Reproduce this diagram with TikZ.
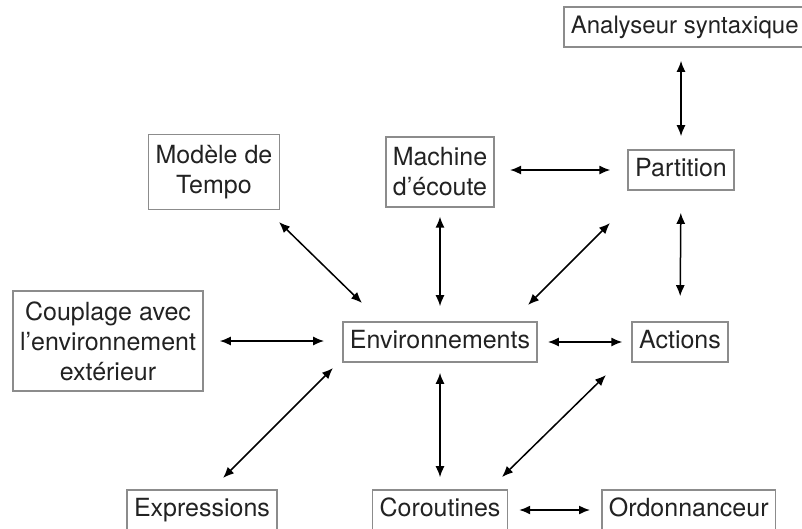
\documentclass[tikz,border=0pt]{standalone}
\usepackage{fontspec}
\setmainfont{TeX Gyre Heros}
\usepackage{tikz}
\usetikzlibrary{arrows.meta}

\definecolor{boxgray}{HTML}{8C8C8C}
\definecolor{txtgray}{HTML}{222222}

\tikzset{
	module/.style={draw=boxgray, line width=1.6pt, text=txtgray, align=center,
		inner xsep=7pt, inner ysep=10.5pt,
		font=\fontsize{25}{30}\selectfont},
	oneline/.style={module, text height=17.5pt, text depth=5pt, inner ysep=8.75pt},
	link/.style={{Latex[length=11pt,width=9pt]}-{Latex[length=11pt,width=9pt]}, line width=1.5pt}
}

\begin{document}
\begin{tikzpicture}[x=1pt,y=-1pt]
		\useasboundingbox (0,0) rectangle (802,528);
		% modules
		\node[oneline, anchor=west, font=\fontsize{24}{29}\selectfont] (ana) at (563,27) {Analyseur syntaxique};
		\node[oneline] (part) at (681,170) {Partition};
		\node[module] (mach) at (440,172) {Machine\\d’écoute};
		\node[module] (tempo) at (214,172) {Modèle de\\Tempo};
		\node[module] (coupl) at (108,341) {Couplage avec\\l’environnement\\extérieur};
		\node[oneline] (env) at (440,342) {Environnements};
		\node[oneline] (act) at (680,342) {Actions};
		\node[oneline] (expr) at (202,510) {Expressions};
		\node[oneline] (corout) at (440,510) {Coroutines};
		\node[oneline, anchor=west] (ordo) at (601,510) {Ordonnanceur};
		% straight links
		\draw[link, shorten <=13pt, shorten >=13pt] (part.north) -- (part.north |- ana.south);
		\draw[link, shorten <=15pt, shorten >=17pt] (mach.east |- part.west) -- (part.west);
		\draw[link, shorten <=22pt, shorten >=25pt] (part.south) -- (act.north);
		\draw[link, shorten <=9pt, shorten >=15pt] (mach.south) -- (env.north);
		\draw[link, shorten <=16pt, shorten >=18pt] (coupl.east) -- (env.west |- coupl.east);
		\draw[link, shorten <=10pt, shorten >=9pt] (env.east) -- (act.west);
		\draw[link, shorten <=10pt, shorten >=12pt] (env.south) -- (corout.north);
		\draw[link, shorten <=11pt, shorten >=11pt] (corout.east) -- (ordo.west);
		% diagonal links
		\draw[link] ([shift={(65,50)}]tempo.center) -- ([shift={(-78,-39)}]env.center);
		\draw[link] ([shift={(-71,53)}]part.center) -- ([shift={(88,-37)}]env.center);
		\draw[link] ([shift={(21,-32)}]expr.center) -- ([shift={(-107,26)}]env.center);
		\draw[link] ([shift={(-74,33)}]act.center) -- ([shift={(62,-33)}]corout.center);
\end{tikzpicture}
\end{document}
